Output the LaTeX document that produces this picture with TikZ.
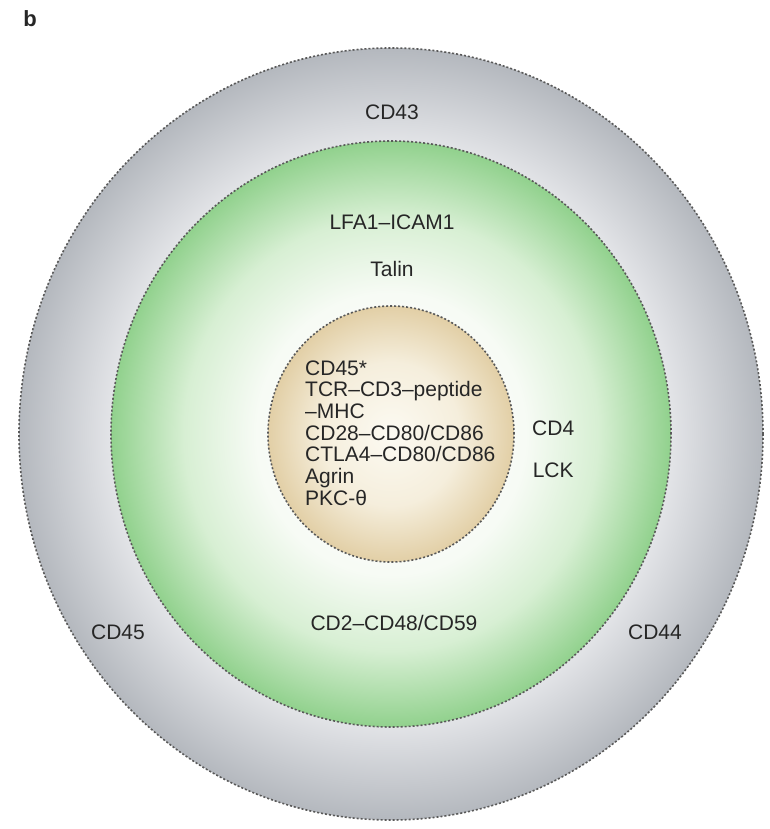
\documentclass[tikz,border=0pt]{standalone}
\usepackage{fontspec}
\setmainfont{Liberation Sans}
\usetikzlibrary{positioning}

\definecolor{greypale}{RGB}{233,234,237}
\definecolor{greyedge}{RGB}{180,184,190}
\definecolor{greenpale}{RGB}{247,251,245}
\definecolor{greenmid}{RGB}{215,239,211}
\definecolor{greenedge}{RGB}{145,209,141}
\definecolor{tanpale}{RGB}{252,250,242}
\definecolor{tanmid}{RGB}{245,238,220}
\definecolor{tanedge}{RGB}{226,207,166}

\pgfdeclareradialshading{greyzone}{\pgfpointorigin}{color(0bp)=(white); color(18bp)=(greypale); color(25bp)=(greyedge); color(50bp)=(greyedge)}
\pgfdeclareradialshading{greenzone}{\pgfpointorigin}{color(0bp)=(white); color(12bp)=(greenpale); color(18.5bp)=(greenmid); color(25bp)=(greenedge); color(50bp)=(greenedge)}
\pgfdeclareradialshading{tanzone}{\pgfpointorigin}{color(0bp)=(tanpale); color(14bp)=(tanmid); color(25bp)=(tanedge); color(50bp)=(tanedge)}

\begin{document}
\begin{tikzpicture}[
		x=1pt, y=-1pt,
		node distance= {27pt},
		zone/.style= {
				draw=black!65,
				dash pattern=on 2pt off 2pt,
				line width=1.6pt
			},
		lbl/.style= {
				inner sep=0pt,
				text=black!85,
				font=\fontsize{21}{21.7}\selectfont
			}
	]

	\useasboundingbox (0,0) rectangle (769,829);
	\coordinate (c) at (391,434);

	% zones
	\shade[zone, shading=greyzone] (c) ellipse [x radius=372pt, y radius=386pt];
	\shade[zone, shading=greenzone] (c) ellipse [x radius=280pt, y radius=293pt];
	\shade[zone, shading=tanzone] (c) ellipse [x radius=123pt, y radius=128pt];

	% labels
	\node[lbl, font=\fontsize{22}{22}\selectfont\bfseries] (b) at (30,19) {b};
	\node[lbl] (cd43) at (392,112) {CD43};
	\node[lbl] (lfa) at (392,222) {LFA1–ICAM1};
	\node[lbl] (talin) [below = 31pt of lfa] {Talin};
	\node[lbl, align=left, anchor=west] (core) at (305,433) {CD45*\\TCR–CD3–peptide\\–MHC\\CD28–CD80/CD86\\CTLA4–CD80/CD86\\Agrin\\PKC-θ};
	\node[lbl, anchor=west] (cd4) at (532,428) {CD4};
	\node[lbl] (lck) [below = of cd4] {LCK};
	\node[lbl] (cd2) at (394,623) {CD2–CD48/CD59};
	\node[lbl] (cd45) at (118,632) {CD45};
	\node[lbl] (cd44) at (655,632) {CD44};
\end{tikzpicture}
\end{document}
